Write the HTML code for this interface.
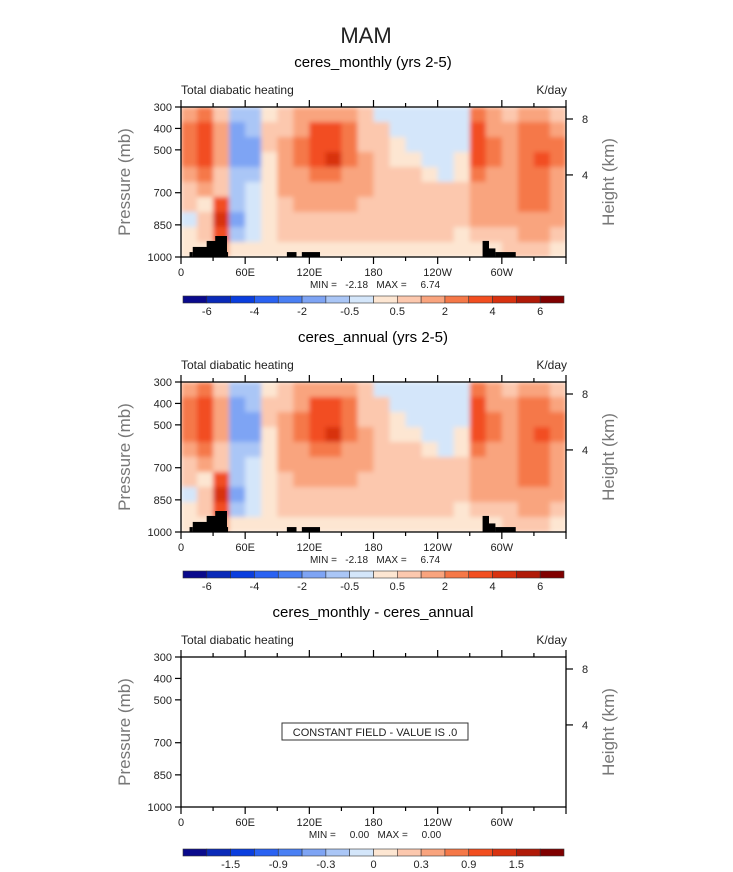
<!DOCTYPE html>
<html><head><meta charset="utf-8"><style>
html,body{margin:0;padding:0;background:#fff}
svg{display:block;font-family:"Liberation Sans",sans-serif}
</style></head><body>
<svg id="fig" width="733" height="872" viewBox="0 0 733 872" xmlns="http://www.w3.org/2000/svg">
<defs><filter id="soft" x="0" y="0" width="1" height="1"><feGaussianBlur stdDeviation="2.5" edgeMode="duplicate"/></filter></defs>
<text x="366" y="43" font-size="22" text-anchor="middle" fill="#222" font-weight="300">MAM</text>
</svg>
<script>
const levels=[-6,-5,-4,-3,-2,-1,-0.5,0,0.5,1,2,3,4,5,6];
const colors=["#0a0a8c","#0a2ab8","#0a3ede","#2a62f2","#4a80f4","#7ea4f4","#aac6f6","#d4e6fa","#fde6d2","#fcc8ae","#f9a47e","#f57848","#f24e20","#d83210","#b01a08","#800000"];
const cbLabels1=["-6","-4","-2","-0.5","0.5","2","4","6"];
const cbLabels3=["-1.5","-0.9","-0.3","0","0.3","0.9","1.5"];
const lonTicks=["0","60E","120E","180","120W","60W"];
const presTicks=[300,400,500,700,850,1000];
const heightTicks=[8,4];
const heightPres=[356,617];
const field=[
[1,2,0.7,-1,-0.7,0.3,0.7,1,1.5,1.5,1,0.5,-0.3,-0.3,-0.3,-0.3,-0.3,-0.3,2,1,0.7,1.5,1.5,0.7],
[2,3,1,-1.5,-1,0.5,0.7,1.5,3,3,2,0.7,0.5,-0.3,-0.3,-0.3,-0.3,-0.3,3,1.5,1,2,2,1.5],
[2,3,1,-1.5,-1.5,0.5,1,2,3,3,2,0.7,0.5,0.3,-0.3,-0.3,-0.3,-0.3,3,2,1,2,2,2],
[2,3,1,-1.5,-2,0.3,1.5,2,3,4,2,1,0.5,0.3,0.3,-0.3,-0.3,0.3,3,2,1,2,3,2],
[1.5,2,0.7,-1,-1,0.3,1,1.5,2.5,2.5,1.5,1,0.7,0.5,0.5,0.3,-0.3,0.3,2,1.5,1,2,2,1.5],
[0.5,1,0.5,-0.7,-0.5,0.3,1,1.2,1.5,1.5,1,1,0.7,0.7,0.5,0.5,0.5,0.5,1.5,1,1,2,2,1.5],
[0.5,0.3,3,-1,-0.5,0.3,0.7,1,1,1,1,0.7,0.7,0.7,0.7,0.7,0.5,0.5,1,1,1,2,2,1],
[-0.3,0.5,4,-1.5,-0.5,0.3,0.7,0.7,0.7,0.7,0.7,0.7,0.7,0.7,0.5,0.5,0.5,0.5,1,1,1,1.5,1.5,1],
[0.3,0.5,3,-1,-0.3,0.3,0.5,0.5,0.5,0.5,0.5,0.5,0.5,0.5,0.5,0.5,0.5,0.3,0.5,0.7,0.7,1,1,0.7],
[0.3,0.3,1,0.3,0.3,0.3,0.3,0.3,0.3,0.3,0.3,0.3,0.3,0.3,0.3,0.3,0.3,0.3,0.3,0.3,0.5,0.5,0.5,0.3]];
// topography blocks: [lonStart, lonEnd, pressureTop]
const topo=[[8,11,977],[11,25,953],[24,33,925],[32,43,902],[42,44,977],[99,108,977],[113,130,977],[282,288,925],[284,294,960],[294,313,977]];
const NS="http://www.w3.org/2000/svg";
const svg=document.getElementById('fig');
const X0=181,X1=566,W=X1-X0,H=150;
function mk(tag,attrs,parent){const e=document.createElementNS(NS,tag);for(const k in attrs)e.setAttribute(k,attrs[k]);(parent||svg).appendChild(e);return e;}
function xS(lon){return X0+lon/360*W;}
function yS(p,top){return top+(p-300)/700*H;}
function colorOf(v){let i=0;while(i<levels.length&&v>=levels[i])i++;return colors[i];}
function txt(s,x,y,size,anchor,parent,fill){const t=mk('text',{x:x,y:y,'font-size':size,'text-anchor':anchor||'start',fill:fill||'#222'},parent);t.textContent=s;return t;}
let pid=0;
function panel(top,title,filled,labels,minmax,cbY){
  const g=mk('g',{});
  
  
  const tt=txt(title,373,top-40,15,'middle',g,'#000');
  
  
  const st=txt('Total diabatic heating',X0,top-13,12,'start',g,'#222');
  
  
  const un=txt('K/day',X1+1,top-13,12,'end',g,'#222');
  
  
  if(filled){
    pid++;
    const cp=mk('clipPath',{id:'cp'+pid},g);
    mk('rect',{x:X0,y:top,width:W,height:H},cp);
    const cg=mk('g',{'clip-path':'url(#cp'+pid+')'},g);
    const fg=mk('g',{filter:'url(#soft)'},cg);
    const rows=field.length,cols=field[0].length;
    for(let r=0;r<rows;r++)for(let c=0;c<cols;c++){
      const cell=mk('rect',{x:X0+c*W/cols,y:top+r*H/rows,width:W/cols+0.6,height:H/rows+0.6,fill:colorOf(field[r][c])},fg);
      
      
    }
    topo.forEach(b=>{
      const y=yS(b[2],top);
      const tr=mk('rect',{x:xS(b[0]),y:y,width:xS(b[1])-xS(b[0]),height:top+H-y,fill:'#000'},g);
      
      
    });
  }else{
    const bx=mk('rect',{x:282,y:top+66,width:186,height:17,fill:'#fff',stroke:'#333','stroke-width':1},g);
    
    
    const ct=txt('CONSTANT FIELD - VALUE IS .0',375,top+79,11,'middle',g,'#222');
    
    
  }
  const fr=mk('rect',{x:X0,y:top,width:W,height:H,fill:'none',stroke:'#000','stroke-width':1.3},g);
  
  
  for(let i=0;i<=12;i++){
    const x=xS(i*30),len=i%2===0?7:4;
    mk('line',{x1:x,x2:x,y1:top,y2:top-len,stroke:'#000','stroke-width':1.2},g);
    mk('line',{x1:x,x2:x,y1:top+H,y2:top+H+len,stroke:'#000','stroke-width':1.2},g);
  }
  lonTicks.forEach((s,i)=>{const t=txt(s,xS(i*60),top+H+19,11,'middle',g,'#222');});
  presTicks.forEach(p=>{const y=yS(p,top);mk('line',{x1:X0-6,x2:X0,y1:y,y2:y,stroke:'#000','stroke-width':1.2},g);
    const t=txt(String(p),X0-9,y+4,11,'end',g,'#222');});
  heightTicks.forEach((h,i)=>{const y=yS(heightPres[i],top);mk('line',{x1:X1,x2:X1+7,y1:y,y2:y,stroke:'#000','stroke-width':1.2},g);
    const t=txt(String(h),X1+16,y+4,11,'start',g,'#222');});
  const yl=txt('Pressure (mb)',0,0,17,'middle',g,'#777');
  yl.setAttribute('transform','translate(130,'+(top+H/2)+') rotate(-90)');
  
  
  const yr=txt('Height (km)',0,0,17,'middle',g,'#777');
  yr.setAttribute('transform','translate(614,'+(top+H/2)+') rotate(-90)');
  
  
  const mm=txt(minmax,375,top+H+31,10,'middle',g,'#222');
  
  
  mm.setAttribute('xml:space','preserve');
  mm.style.whiteSpace='pre';
  const cw=(564-183)/16;
  colors.forEach((c,i)=>{const r=mk('rect',{x:183+i*cw,y:cbY,width:cw,height:7,fill:c,stroke:'#333','stroke-width':0.6},g);
    });
  const start=labels.length===8?1:2;
  labels.forEach((s,i)=>{const t=txt(s,183+(start+i*2)*cw,cbY+19,11,'middle',g,'#222');});
}
panel(107,'ceres_monthly (yrs 2-5)',true,cbLabels1,'MIN =   -2.18   MAX =     6.74',296);
panel(382,'ceres_annual (yrs 2-5)',true,cbLabels1,'MIN =   -2.18   MAX =     6.74',571);
panel(657,'ceres_monthly - ceres_annual',false,cbLabels3,'MIN =     0.00   MAX =     0.00',849);
</script>
</body></html>
